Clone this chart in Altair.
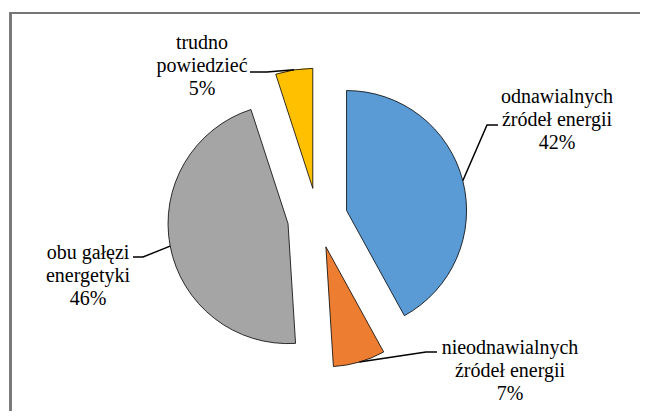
import math
import altair as alt
import pandas as pd

# ---- data ----
categories = [
    "odnawialnych\nźródeł energii",
    "nieodnawialnych\nźródeł energii",
    "obu gałęzi\nenergetyki",
    "trudno\npowiedzieć",
]
values = [42, 7, 46, 5]
colors = ["#5B9BD5", "#ED7D31", "#A5A5A5", "#FFC000"]

# ---- layout (pixels inside the 632x403 canvas) ----
W, H = 632, 403
CX, CY = 309.5, 210.0   # pie centre
R = 120                 # radius
EXPLODE = 30            # explosion distance
LINE_H = 23
SERIF = "Liberation Serif"
# first-line centres of labels and leader elbow/end points
label_pos = [(549, 89), (502, 340), (80, 245), (194, 35)]
leader_pts = [
    [(479, 117), (490, 117)],
    [(418, 344), (429, 344)],
    [(135, 249), (125, 249)],
    [(259, 64), (242, 64)],
]

total = sum(values)
rows, lab_rows, lead_rows = [], [], []
cum = 0
for i, (c, v) in enumerate(zip(categories, values)):
    start, end = cum, cum + v
    cum = end
    mid = (start + end) / 2 / total * 2 * math.pi
    cx = CX + EXPLODE * math.sin(mid)
    cy = CY - EXPLODE * math.cos(mid)
    rows.append(dict(cat=c, value=v, start=start, end=end, cx=cx, cy=cy, idx=i))
    lx, ly = label_pos[i]
    for k, line in enumerate(c.split("\n") + [f"{v}%"]):
        lab_rows.append(dict(cat=c, line=line, x=lx, y=ly + k * LINE_H))
    ax = cx + R * math.sin(mid)
    ay = cy - R * math.cos(mid)
    pts = [(ax, ay)] + leader_pts[i]
    for k, (px, py) in enumerate(pts):
        lead_rows.append(dict(cat=c, k=k, x=px, y=py))

df = pd.DataFrame(rows)
lab = pd.DataFrame(lab_rows)
lead = pd.DataFrame(lead_rows)

pie = alt.Chart(df).mark_arc(outerRadius=R, stroke="black", strokeWidth=0.8).encode(
    theta=alt.Theta("start:Q", stack=None, scale=alt.Scale(domain=[0, total], range=[0, 2 * math.pi])),
    theta2="end:Q",
    x=alt.X("cx:Q", scale=None),
    y=alt.Y("cy:Q", scale=None),
    color=alt.Color("cat:N", scale=alt.Scale(domain=categories, range=colors), legend=None),
)

leaders = alt.Chart(lead).mark_line(color="black", strokeWidth=1.5).encode(
    x=alt.X("x:Q", scale=None),
    y=alt.Y("y:Q", scale=None),
    detail="cat:N",
    order="k:Q",
)

labels = alt.Chart(lab).mark_text(
    font=SERIF, fontSize=20,
    align="center", baseline="middle", color="black",
).encode(
    x=alt.X("x:Q", scale=None),
    y=alt.Y("y:Q", scale=None),
    text="line:N",
)

border_top = alt.Chart(df).mark_rule(color="#767676", strokeWidth=2).encode(
    x=alt.value(2), x2=alt.value(W), y=alt.value(5)
)
border_left = alt.Chart(df).mark_rule(color="#767676", strokeWidth=2).encode(
    x=alt.value(2.5), y=alt.value(4), y2=alt.value(H)
)

chart = alt.layer(border_top, border_left, pie, leaders, labels).properties(
    width=W, height=H, padding=0, autosize=alt.AutoSizeParams(type="none"),
).configure(font=SERIF).configure_text(font=SERIF).configure_view(stroke=None)

chart.save("out.html", embed_options={"renderer": "svg", "actions": False})
